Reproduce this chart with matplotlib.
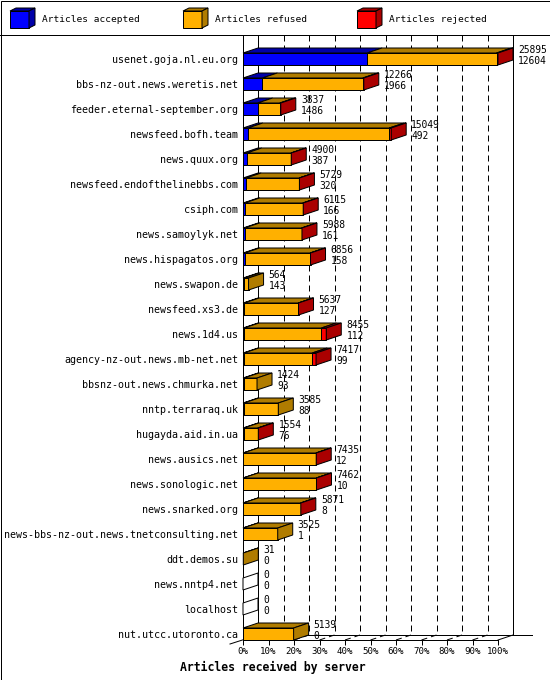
import matplotlib
matplotlib.use("Agg")
import matplotlib.pyplot as plt
from matplotlib.patches import Polygon, Rectangle
from matplotlib.lines import Line2D

# data (offered = upper number, accepted = lower number)
servers = [
    "usenet.goja.nl.eu.org", "bbs-nz-out.news.weretis.net",
    "feeder.eternal-september.org", "newsfeed.bofh.team", "news.quux.org",
    "newsfeed.endofthelinebbs.com", "csiph.com", "news.samoylyk.net",
    "news.hispagatos.org", "news.swapon.de", "newsfeed.xs3.de", "news.1d4.us",
    "agency-nz-out.news.mb-net.net", "bbsnz-out.news.chmurka.net",
    "nntp.terraraq.uk", "hugayda.aid.in.ua", "news.ausics.net",
    "news.sonologic.net", "news.snarked.org",
    "news-bbs-nz-out.news.tnetconsulting.net", "ddt.demos.su",
    "news.nntp4.net", "localhost", "nut.utcc.utoronto.ca",
]
offered = [25895, 12266, 3837, 15049, 4900, 5729, 6115, 5988, 6856, 564, 5637,
           8455, 7417, 1424, 3585, 1554, 7435, 7462, 5871, 3525, 31, 0, 0, 5139]
accepted = [12604, 1966, 1486, 492, 387, 320, 166, 161, 158, 143, 127, 112, 99,
            93, 88, 76, 12, 10, 8, 1, 0, 0, 0, 0]
refused = [13141, 10200, 2251, 14357, 4483, 5379, 5899, 5787, 6648, 421, 5480,
           7843, 6918, 1331, 3497, 1418, 7393, 7422, 5833, 3524, 31, 0, 0, 5139]
rejected = [150, 100, 100, 200, 30, 30, 50, 40, 50, 0, 30, 500, 400, 0, 0, 60,
            30, 30, 30, 0, 0, 0, 0, 0]

series_labels = ["Articles accepted", "Articles refused", "Articles rejected"]
tick_values = list(range(0, 101, 10))
tick_labels = [f"{t}%" for t in tick_values]

FRONT = ["#0000ff", "#ffb000", "#ff0000"]
DARK = ["#0000a8", "#b07c00", "#aa0000"]

W, H = 550, 680
LW = 0.72  # one pixel
FONT = "DejaVu Sans Mono"
plt.rcParams["font.family"] = FONT

fig = plt.figure(figsize=(W / 100, H / 100), dpi=100)

# decoration layer in pixel units (frame + legend)
deco = fig.add_axes([0, 0, 1, 1], zorder=0)
deco.set_xlim(0, W)
deco.set_ylim(H, 0)
deco.axis("off")
deco.add_patch(Rectangle((0.5, 0.5), W - 1, H - 1, fill=False, ec="black", lw=LW))
deco.add_line(Line2D([0, W], [35, 35], color="black", lw=LW))

for j, label in enumerate(series_labels):
    x0 = [10, 183, 357][j]
    deco.add_patch(Rectangle((x0, 11), 19, 17, fc=FRONT[j], ec="black", lw=LW))
    deco.add_patch(Polygon([(x0, 11), (x0 + 19, 11), (x0 + 25, 8), (x0 + 6, 8)],
                           fc=DARK[j], ec="black", lw=LW))
    deco.add_patch(Polygon([(x0 + 19, 11), (x0 + 25, 8), (x0 + 25, 25), (x0 + 19, 28)],
                           fc=DARK[j], ec="black", lw=LW))
    deco.text(x0 + 32, 20, label, fontsize=6.8, va="center", ha="left")

# main chart: x in percent of the biggest server, y in rows
ax = fig.add_axes([243 / W, 1 - 640 / H, 255 / W, 605 / H], zorder=1)
ax.patch.set_alpha(0)
TOP, FLOOR = -0.96, 23.24
ax.set_xlim(0, 100)
ax.set_ylim(FLOOR, TOP)
DX, DY = 15 / 2.55, 0.2
BAR_H = 0.48

for s in ["top", "right"]:
    ax.spines[s].set_visible(False)
for s in ["left", "bottom"]:
    ax.spines[s].set_linewidth(LW)

rows = list(range(len(servers)))
ax.set_yticks(rows, servers)
ax.tick_params(axis="y", length=0, pad=3.6, labelsize=7.2)
ax.set_xticks(tick_values, tick_labels)
ax.tick_params(axis="x", length=3.6, width=LW, pad=1.2, labelsize=6.6)

# back wall, left wall and floor
back_floor = FLOOR - DY
for x in [DX, 100 + DX]:
    ax.add_line(Line2D([x, x], [TOP, back_floor], color="black", lw=LW,
                       clip_on=False, zorder=1))
for t in tick_values[1:-1]:
    ax.add_line(Line2D([t + DX, t + DX], [TOP, back_floor], color="black", lw=LW,
                       ls=(0, (6, 4)), clip_on=False, zorder=1))
    ax.add_line(Line2D([t, t + DX], [FLOOR, back_floor], color="black", lw=LW,
                       ls=(0, (6, 4)), clip_on=False, zorder=1))
ax.add_line(Line2D([DX, 113.3], [back_floor, back_floor], color="black", lw=LW,
                   clip_on=False, zorder=1))
ax.add_line(Line2D([100, 100 + DX], [FLOOR, back_floor], color="black", lw=LW,
                   clip_on=False, zorder=1))
ax.add_line(Line2D([-5.1, DX], [FLOOR + 0.16, back_floor], color="black", lw=LW,
                   clip_on=False, zorder=1))

# stacked 3d bars
scale = max(offered)
series = [accepted, refused, rejected]
lefts = [0.0] * len(rows)
last = [None] * len(rows)
for k, values in enumerate(series):
    widths = [v / scale * 100 for v in values]
    ax.barh(rows, widths, left=lefts, height=BAR_H, color=FRONT[k],
            edgecolor="black", lw=LW, zorder=3)
    for i, w in enumerate(widths):
        if w <= 0:
            continue
        top = i - BAR_H / 2
        l = lefts[i]
        ax.add_patch(Polygon([(l, top), (l + w, top), (l + w + DX, top - DY),
                              (l + DX, top - DY)], fc=DARK[k], ec="black", lw=LW,
                             zorder=3, clip_on=False))
        last[i] = k
    lefts = [a + b for a, b in zip(lefts, widths)]

for i in rows:
    top, bot, end = i - BAR_H / 2, i + BAR_H / 2, lefts[i]
    side = DARK[last[i]] if last[i] is not None else "white"
    ax.add_patch(Polygon([(end, top), (end + DX, top - DY), (end + DX, bot - DY),
                          (end, bot)], fc=side, ec="black", lw=LW, zorder=3,
                         clip_on=False))
    ax.text(end + DX + 2, i - 0.36, str(offered[i]), fontsize=6.9,
            va="center", ha="left", zorder=4)
    ax.text(end + DX + 2, i + 0.08, str(accepted[i]), fontsize=6.9,
            va="center", ha="left", zorder=4)

fig.text(273 / W, 1 - 667 / H, "Articles received by server", ha="center",
         va="center", fontsize=8.3, fontweight="bold")

fig.savefig("out.png", dpi=100)
